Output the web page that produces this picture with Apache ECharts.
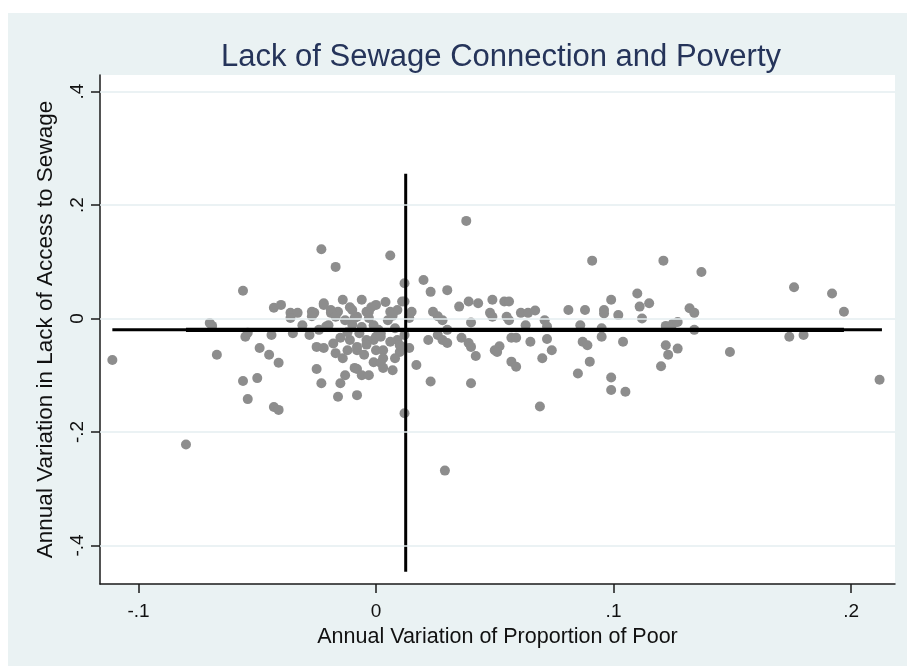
<!DOCTYPE html>
<html>
<head>
<meta charset="utf-8">
<script src="https://cdn.jsdelivr.net/npm/echarts@6/dist/echarts.min.js"></script>
<style>
  html, body { margin: 0; padding: 0; background: #ffffff; }
  #wrap { position: relative; width: 907px; height: 666px; background: #ffffff; overflow: hidden; }
  #panel { position: absolute; left: 8px; top: 13px; right: 0; bottom: 0; background: #eaf2f3; }
  #chart { position: absolute; left: 0; top: 0; width: 907px; height: 666px; }
</style>
</head>
<body>
<div id="wrap"><div id="panel"></div><div id="chart"></div></div>
<script>
// Annual change in the share of poor people (x) per municipality
const povertyChange = [
  -0.111, -0.080, -0.070, -0.069, -0.067, -0.056, -0.055, -0.054, -0.049, -0.056,
  -0.050, -0.054, -0.043, -0.041, -0.045, -0.041, -0.044, -0.043, -0.040, -0.036,
  -0.033, -0.035, -0.031, -0.026, -0.022, -0.019, -0.016, -0.014, -0.011, -0.008,
  -0.020, -0.015, -0.025, -0.022, -0.017, -0.025, -0.023, -0.015, -0.013, -0.016,
  -0.008, -0.008, -0.006, -0.012, -0.008, -0.006, -0.003, 0.000, 0.004, -0.001,
  0.000, 0.003, -0.001, 0.003, -0.023, -0.017, 0.006, 0.012, -0.036, -0.027,
  -0.022, -0.019, -0.017, -0.009, -0.004, 0.006, 0.009, 0.011, -0.021, -0.008,
  -0.004, 0.000, -0.001, 0.002, 0.002, 0.007, -0.009, 0.012, 0.010, 0.020,
  0.023, 0.030, 0.012, 0.015, 0.014, 0.024, 0.028, 0.026, 0.035, 0.039,
  0.043, 0.049, 0.054, 0.056, 0.048, 0.049, 0.040, 0.055, 0.056, 0.061,
  0.064, 0.067, 0.071, 0.072, 0.063, 0.012, 0.011, 0.014, 0.022, 0.026,
  0.028, 0.030, 0.030, 0.036, 0.039, 0.040, 0.042, 0.050, 0.052, 0.051,
  0.057, 0.059, 0.065, 0.072, 0.074, 0.057, 0.059, 0.070, 0.017, 0.023,
  0.040, 0.069, 0.029, 0.038, 0.091, 0.121, 0.137, 0.081, 0.088, 0.096,
  0.096, 0.099, 0.102, 0.110, 0.111, 0.115, 0.112, 0.086, 0.095, 0.095,
  0.104, 0.087, 0.089, 0.090, 0.085, 0.099, 0.099, 0.105, 0.122, 0.125,
  0.127, 0.132, 0.134, 0.134, 0.122, 0.127, 0.123, 0.120, 0.149, 0.176,
  0.192, 0.197, 0.174, 0.180, 0.212, 0.002, 0.003, -0.003, -0.010, -0.007,
  0.005, 0.008, 0.009, -0.005, -0.011, 0.006, -0.003, -0.013, -0.010, -0.028,
  -0.024, 0.008, -0.006, -0.018, -0.012, -0.004, 0.001, 0.007, -0.027, -0.014,
  -0.002, 0.010
];

// Annual change in the share of households without a sewage connection (y)
const sewageChange = [
  -0.073, -0.222, -0.008, -0.013, -0.064, 0.049, -0.032, -0.025, -0.052, -0.110,
  -0.105, -0.142, -0.156, -0.161, -0.064, -0.078, -0.029, 0.019, 0.024, 0.010,
  0.010, -0.026, -0.012, 0.010, 0.024, 0.010, 0.012, 0.033, 0.020, 0.003,
  -0.012, -0.034, -0.050, -0.052, -0.061, -0.089, -0.114, -0.114, -0.100, -0.138,
  -0.135, -0.089, -0.100, -0.056, -0.056, -0.015, 0.012, 0.024, 0.029, -0.038,
  -0.056, -0.056, -0.077, -0.087, 0.122, 0.091, 0.111, 0.062, 0.001, 0.012,
  0.027, 0.015, 0.003, 0.001, 0.012, 0.012, 0.015, 0.030, -0.014, -0.050,
  -0.038, -0.032, -0.012, -0.026, -0.078, -0.091, -0.087, -0.167, -0.059, 0.068,
  0.047, 0.050, 0.030, 0.012, 0.001, 0.012, -0.003, 0.004, 0.021, 0.030,
  0.027, 0.033, 0.030, 0.030, 0.010, 0.003, -0.007, 0.003, -0.003, 0.010,
  0.010, 0.014, -0.003, -0.014, -0.012, -0.029, -0.050, -0.052, -0.038, -0.029,
  -0.038, -0.043, -0.020, -0.034, -0.043, -0.050, -0.066, -0.056, -0.049, -0.059,
  -0.034, -0.034, -0.041, -0.036, -0.056, -0.076, -0.085, -0.070, -0.082, -0.111,
  -0.114, -0.155, -0.268, 0.172, 0.102, 0.102, 0.082, 0.015, 0.015, 0.015,
  0.009, 0.033, 0.006, 0.044, 0.021, 0.027, 0.000, -0.012, -0.017, -0.032,
  -0.041, -0.041, -0.047, -0.076, -0.097, -0.104, -0.126, -0.129, -0.013, -0.009,
  -0.006, 0.018, 0.010, -0.020, -0.047, -0.053, -0.064, -0.084, -0.059, 0.055,
  0.044, 0.012, -0.032, -0.029, -0.108, -0.032, -0.070, -0.100, -0.011, -0.026,
  -0.003, -0.017, -0.038, -0.064, -0.038, -0.041, 0.001, -0.003, 0.015, -0.029,
  -0.020, -0.070, 0.033, -0.044, -0.024, -0.046, -0.020, 0.005, 0.004, -0.070,
  0.020, -0.047
];

const xTicks = [-0.1, 0, 0.1, 0.2];
const yTicks = [-0.4, -0.2, 0, 0.2, 0.4];

// Reference lines: horizontal level, its extent, and the vertical cut
const hRefY = -0.020;
const hRefX = [-0.111, 0.213];
const hRefCoreX = [-0.080, 0.197];
const vRefX = 0.0125;
const vRefY = [-0.446, 0.255];

const FONT = '"Liberation Sans", Arial, Helvetica, sans-serif';
const fmt = v => {
  if (Math.abs(v) < 1e-9) return '0';
  const s = String(Math.abs(+v.toFixed(4))).replace(/^0/, '');
  return (v < 0 ? '-' : '') + s;
};

const points = povertyChange.map((x, i) => [x, sewageChange[i]]);

const axisLineStyle = { color: '#1a1a1a', width: 1.5 };

const chart = echarts.init(document.getElementById('chart'), null, { renderer: 'canvas' });
chart.setOption({
  animation: false,
  backgroundColor: 'transparent',
  textStyle: { fontFamily: FONT },
  title: {
    text: 'Lack of Sewage Connection and Poverty',
    left: 496,
    textAlign: 'center',
    top: 37,
    textStyle: { fontFamily: FONT, fontSize: 31, fontWeight: 'normal', color: '#25345a' }
  },
  grid: {
    left: 100, right: 12, top: 75, bottom: 82,
    show: true, backgroundColor: '#ffffff', borderWidth: 0
  },
  xAxis: {
    type: 'value',
    min: -0.1162, max: 0.2185,
    name: 'Annual Variation of Proportion of Poor',
    nameLocation: 'middle',
    nameGap: 39,
    nameTextStyle: { fontFamily: FONT, fontSize: 21.5, color: '#111' },
    axisLine: { show: true, onZero: false, lineStyle: axisLineStyle },
    axisTick: { show: true, inside: false, length: 9, customValues: xTicks, lineStyle: axisLineStyle },
    axisLabel: { customValues: xTicks, formatter: fmt, fontFamily: FONT, fontSize: 19, color: '#111', margin: 18 },
    splitLine: { show: false }
  },
  yAxis: {
    type: 'value',
    min: -0.4678, max: 0.4291,
    name: 'Annual Variation in Lack of Access to Sewage',
    nameLocation: 'middle',
    nameGap: 43,
    nameTextStyle: { fontFamily: FONT, fontSize: 22.5, color: '#111' },
    axisLine: { show: true, onZero: false, lineStyle: axisLineStyle },
    axisTick: { show: true, inside: false, length: 9, customValues: yTicks, lineStyle: axisLineStyle },
    axisLabel: { customValues: yTicks, formatter: fmt, rotate: 90, fontFamily: FONT, fontSize: 19, color: '#111', margin: 13 },
    splitLine: { show: false }
  },
  series: [
    {
      name: 'grid',
      type: 'line',
      data: [],
      silent: true,
      z: 1,
      markLine: {
        silent: true,
        symbol: 'none',
        label: { show: false },
        lineStyle: { color: '#e4eef0', width: 1.5, type: 'solid' },
        data: yTicks.map(v => ({ yAxis: v }))
      }
    },
    {
      name: 'municipalities',
      type: 'scatter',
      data: points,
      symbol: 'circle',
      symbolSize: 10,
      z: 2,
      itemStyle: { color: '#8d8d8d', opacity: 1 }
    },
    {
      name: 'hRef',
      type: 'line',
      data: [[hRefX[0], hRefY], [hRefX[1], hRefY]],
      symbol: 'none',
      silent: true,
      z: 3,
      lineStyle: { color: '#000', width: 3 }
    },
    {
      name: 'hRefCore',
      type: 'line',
      data: [[hRefCoreX[0], hRefY], [hRefCoreX[1], hRefY]],
      symbol: 'none',
      silent: true,
      z: 3,
      lineStyle: { color: '#000', width: 4.2 }
    },
    {
      name: 'vRef',
      type: 'line',
      data: [[vRefX, vRefY[0]], [vRefX, vRefY[1]]],
      symbol: 'none',
      silent: true,
      z: 3,
      lineStyle: { color: '#000', width: 3 }
    }
  ]
});
</script>
</body>
</html>
